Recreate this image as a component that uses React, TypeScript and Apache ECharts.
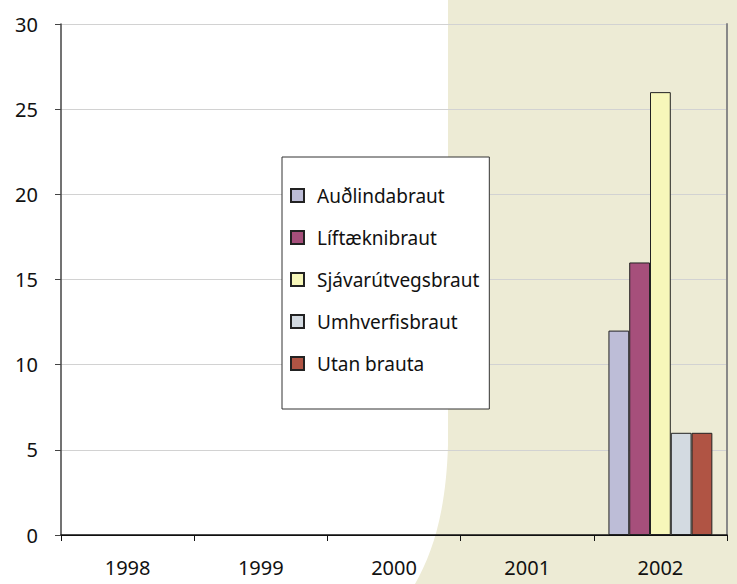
import React, { useEffect, useRef } from "react";
import * as echarts from "echarts";

const years = ["1998", "1999", "2000", "2001", "2002"];
const seriesNames = ["Auðlindabraut", "Líftæknibraut", "Sjávarútvegsbraut", "Umhverfisbraut", "Utan brauta"];
const audlindabraut = [null, null, null, null, 12];
const liftaeknibraut = [null, null, null, null, 16];
const sjavarutvegsbraut = [null, null, null, null, 26];
const umhverfisbraut = [null, null, null, null, 6];
const utanBrauta = [null, null, null, null, 6];
const seriesValues = [audlindabraut, liftaeknibraut, sjavarutvegsbraut, umhverfisbraut, utanBrauta];
const colors = ["#BDBDD7", "#A64F7B", "#F7F7BA", "#D3DAE1", "#B05444"];
const yMin = 0;
const yMax = 30;
const yInterval = 5;

const FONT = "Noto Sans";

echarts.graphic.registerShape(
  "bgcurve",
  echarts.graphic.extendPath("M448,0 L737,0 L737,584 L415,584 C433,552 446,512 448,445 Z", {})
);

export default function App() {
  const ref = useRef<HTMLDivElement>(null);
  useEffect(() => {
    document.body.style.margin = "0";
    const chart = echarts.init(ref.current!, null, { renderer: "svg" });
    chart.setOption({
      animation: false,
      backgroundColor: "#FFFFFF",
      textStyle: { fontFamily: FONT },
      graphic: [
        {
          type: "bgcurve",
          x: 0,
          y: 0,
          z: -10,
          silent: true,
          style: { fill: "#EDEBD5", stroke: "none" },
        },
      ],
      grid: { left: 61, right: 10, top: 24, bottom: 49, containLabel: false },
      legend: {
        data: seriesNames,
        orient: "vertical",
        left: 282,
        top: 157,
        itemWidth: 13,
        itemHeight: 13,
        itemGap: 23,
        padding: [29, 10, 36, 8],
        backgroundColor: "#FFFFFF",
        borderColor: "#333333",
        borderWidth: 1,
        borderRadius: 0,
        icon: "rect",
        textStyle: { fontFamily: FONT, fontSize: 19, color: "#111", padding: [0, 0, 0, 8] },
      },
      xAxis: [
        {
          type: "category",
          data: years,
          axisLine: { lineStyle: { color: "#111", width: 1 } },
          axisTick: { show: true, length: 6, alignWithLabel: false, lineStyle: { color: "#111" } },
          axisLabel: { fontFamily: FONT, fontSize: 20, color: "#111", margin: 22 },
          splitLine: { show: false },
        },
        {
          type: "category",
          data: years,
          position: "top",
          axisLine: { lineStyle: { color: "#111", width: 1.5 } },
          axisTick: { show: false },
          axisLabel: { show: false },
        },
      ],
      yAxis: [
        {
          type: "value",
          min: yMin,
          max: yMax,
          interval: yInterval,
          axisLine: { show: true, lineStyle: { color: "#444", width: 1.5 } },
          axisTick: { show: true, length: 6, lineStyle: { color: "#444" } },
          axisLabel: { fontFamily: FONT, fontSize: 20, color: "#111", margin: 23 },
          splitLine: { show: true, lineStyle: { color: "#D2D2D2", width: 1 } },
        },
        {
          type: "value",
          min: yMin,
          max: yMax,
          interval: yInterval,
          position: "right",
          axisLine: { show: true, lineStyle: { color: "#888", width: 2 } },
          axisTick: { show: false },
          axisLabel: { show: false },
          splitLine: { show: false },
        },
      ],
      series: seriesNames.map((name, i) => ({
        name,
        type: "bar",
        xAxisIndex: 0,
        yAxisIndex: 0,
        data: seriesValues[i],
        barGap: "0%",
        barCategoryGap: "22%",
        itemStyle: { color: colors[i], borderColor: "#222", borderWidth: 1 },
      })),
    });
    return () => chart.dispose();
  }, []);
  return <div ref={ref} style={{ width: 737, height: 584, position: "absolute", left: 0, top: 0 }} />;
}
